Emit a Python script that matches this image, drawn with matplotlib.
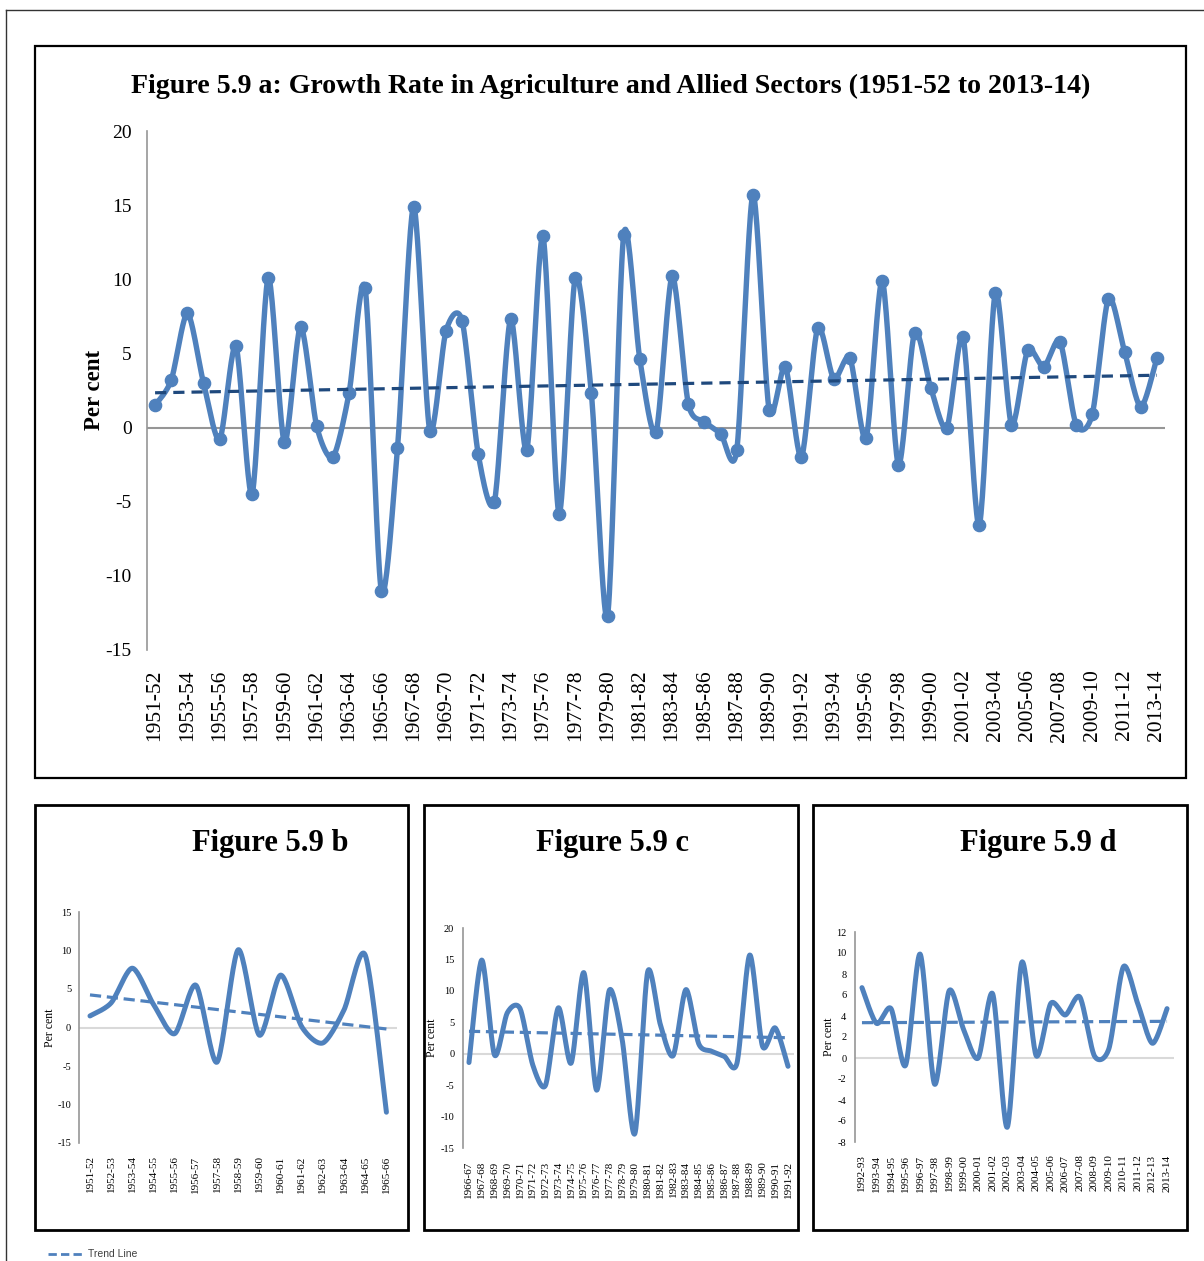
import numpy as np
import matplotlib
matplotlib.use("Agg")
import matplotlib.pyplot as plt
from matplotlib.patches import Rectangle
from matplotlib.lines import Line2D

W, H = 1204, 1261
SERIF = "Liberation Serif"
SANS = "Liberation Sans"
BLUE = "#4F81BD"
NAVY = "#1F497D"

years = ["1951-52", "1952-53", "1953-54", "1954-55", "1955-56", "1956-57", "1957-58",
         "1958-59", "1959-60", "1960-61", "1961-62", "1962-63", "1963-64", "1964-65",
         "1965-66", "1966-67", "1967-68", "1968-69", "1969-70", "1970-71", "1971-72",
         "1972-73", "1973-74", "1974-75", "1975-76", "1976-77", "1977-78", "1978-79",
         "1979-80", "1980-81", "1981-82", "1982-83", "1983-84", "1984-85", "1985-86",
         "1986-87", "1987-88", "1988-89", "1989-90", "1990-91", "1991-92", "1992-93",
         "1993-94", "1994-95", "1995-96", "1996-97", "1997-98", "1998-99", "1999-00",
         "2000-01", "2001-02", "2002-03", "2003-04", "2004-05", "2005-06", "2006-07",
         "2007-08", "2008-09", "2009-10", "2010-11", "2011-12", "2012-13", "2013-14"]

growth = [1.5, 3.2, 7.7, 3.0, -0.8, 5.5, -4.5,
          10.1, -1.0, 6.8, 0.1, -2.0, 2.3, 9.4,
          -11.0, -1.4, 14.9, -0.2, 6.5, 7.2, -1.8,
          -5.0, 7.3, -1.5, 12.9, -5.8, 10.1, 2.3,
          -12.7, 13.0, 4.6, -0.3, 10.2, 1.6, 0.4,
          -0.4, -1.5, 15.7, 1.2, 4.1, -2.0, 6.7,
          3.3, 4.7, -0.7, 9.9, -2.5, 6.4, 2.7,
          0.0, 6.1, -6.6, 9.1, 0.2, 5.2, 4.1,
          5.8, 0.2, 0.9, 8.7, 5.1, 1.4, 4.7]

# sub periods (b, c, d)
periods = [(0, 15), (15, 41), (41, 63)]


def box(l, t, r, b):
    return [l / W, 1 - b / H, (r - l) / W, (b - t) / H]


def smooth(x, y, n=24, tens=7.5):
    # excel-like smoothed line (bezier through the points)
    x = np.asarray(x, float)
    y = np.asarray(y, float)
    xs, ys = [], []
    for i in range(len(x) - 1):
        i0 = max(i - 1, 0)
        i3 = min(i + 2, len(x) - 1)
        p0 = np.array([x[i0], y[i0]])
        p1 = np.array([x[i], y[i]])
        p2 = np.array([x[i + 1], y[i + 1]])
        p3 = np.array([x[i3], y[i3]])
        c1 = p1 + (p2 - p0) / tens
        c2 = p2 - (p3 - p1) / tens
        t = np.linspace(0, 1, n)[:, None]
        pts = (1 - t) ** 3 * p1 + 3 * (1 - t) ** 2 * t * c1 + 3 * (1 - t) * t ** 2 * c2 + t ** 3 * p2
        xs.extend(pts[:, 0])
        ys.extend(pts[:, 1])
    return xs, ys


def style_axes(ax, zero_color):
    for s in ["top", "right", "bottom"]:
        ax.spines[s].set_visible(False)
    ax.spines["left"].set_color("#969696")
    ax.spines["left"].set_linewidth(1.2)
    ax.axhline(0, color=zero_color, lw=1.5, zorder=1)
    ax.tick_params(length=0)


fig = plt.figure(figsize=(W / 100, H / 100), dpi=100)

# page frame
fig.add_artist(Line2D([6 / W, 1], [1 - 10 / H, 1 - 10 / H], color="#333333", lw=1, transform=fig.transFigure))
fig.add_artist(Line2D([6 / W, 6 / W], [1 - 10 / H, 0], color="#333333", lw=1, transform=fig.transFigure))

# ---------- main chart ----------
fig.add_artist(Rectangle((35 / W, 1 - 778 / H), (1186 - 35) / W, (778 - 46) / H,
                         fill=False, ec="black", lw=1.6, transform=fig.transFigure))
fig.text(611 / W, 1 - 86 / H,
         "Figure 5.9 a: Growth Rate in Agriculture and Allied Sectors (1951-52 to 2013-14)",
         ha="center", va="center", fontsize=20.1, fontweight="bold", family=SERIF)

ax = fig.add_axes(box(147, 131, 1165, 650))
x = np.arange(len(growth))
style_axes(ax, "#969696")
sx, sy = smooth(x, growth)
ax.plot(sx, sy, color=BLUE, lw=3.9, solid_capstyle="round", zorder=3)
ax.plot(x, growth, "o", color=BLUE, ms=8.8, zorder=4)
k, c = np.polyfit(x, growth, 1)
ax.plot([0, x[-1]], [c, c + k * x[-1]], color=NAVY, lw=2.3, dashes=(3.5, 2.2), zorder=5)
ax.set_xlim(-0.5, len(growth) - 0.5)
ax.set_ylim(-15, 20)
ax.set_yticks(range(-15, 21, 5))
ax.set_yticklabels([str(v) for v in range(-15, 21, 5)], family=SERIF, fontsize=14)
ax.set_xticks(x[::2])
ax.set_xticklabels(years[::2], rotation=90, family=SERIF, fontsize=15.5)
ax.tick_params(axis="y", pad=11)
ax.tick_params(axis="x", pad=14)
fig.text(95 / W, 1 - 390 / H, "Per cent", rotation=90, ha="center", va="center",
         fontsize=16.5, fontweight="bold", family=SERIF)

# ---------- sub charts ----------
frames = [(35, 805, 408, 1230), (424, 805, 798, 1230), (813, 805, 1187, 1230)]
titles = ["Figure 5.9 b", "Figure 5.9 c", "Figure 5.9 d"]
title_x = [270, 613, 1038]
plot_boxes = [(79.4, 912, 397, 1143), (462.6, 928, 794.4, 1148), (854.7, 932, 1174.3, 1142)]
ylims = [(-15, 15, 5), (-15, 20, 5), (-8, 12, 2)]
ylab_x = [50, 432, 829]

for i, (a, b) in enumerate(periods):
    l, t, r, bt = frames[i]
    fig.add_artist(Rectangle((l / W, 1 - bt / H), (r - l) / W, (bt - t) / H,
                             fill=False, ec="black", lw=2, transform=fig.transFigure))
    fig.text(title_x[i] / W, 1 - 843 / H, titles[i], ha="center", va="center",
             fontsize=22, fontweight="bold", family=SERIF)
    sub = fig.add_axes(box(*plot_boxes[i]))
    vals = growth[a:b]
    labs = years[a:b]
    xi = np.arange(len(vals))
    style_axes(sub, "#D9D9D9")
    sx, sy = smooth(xi, vals)
    sub.plot(sx, sy, color=BLUE, lw=3.6, solid_capstyle="round", zorder=3)
    k, c = np.polyfit(xi, vals, 1)
    sub.plot([0, xi[-1]], [c, c + k * xi[-1]], color=BLUE, lw=2.3, dashes=(3.5, 1.8), zorder=4)
    lo, hi, step = ylims[i]
    sub.set_xlim(-0.5, len(vals) - 0.5)
    sub.set_ylim(lo, hi)
    sub.set_yticks(range(lo, hi + 1, step))
    sub.set_yticklabels([str(v) for v in range(lo, hi + 1, step)], family=SERIF, fontsize=7.5)
    sub.set_xticks(xi)
    sub.set_xticklabels(labs, rotation=90, family=SERIF, fontsize=8)
    sub.tick_params(axis="y", pad=6)
    sub.tick_params(axis="x", pad=9)
    ymid = (plot_boxes[i][1] + plot_boxes[i][3]) / 2
    fig.text(ylab_x[i] / W, 1 - ymid / H, "Per cent", rotation=90, ha="center", va="center",
             fontsize=8.5, family=SERIF)

# legend for trend
fig.add_artist(Line2D([48 / W, 82 / W], [1 - 1254 / H, 1 - 1254 / H], color=BLUE, lw=2,
                      dashes=(3, 1.5), transform=fig.transFigure))
fig.text(88 / W, 1 - 1254 / H, "Trend Line", ha="left", va="center", fontsize=7.5,
         family=SANS, color="#404040")

fig.savefig("out.png", dpi=100)
